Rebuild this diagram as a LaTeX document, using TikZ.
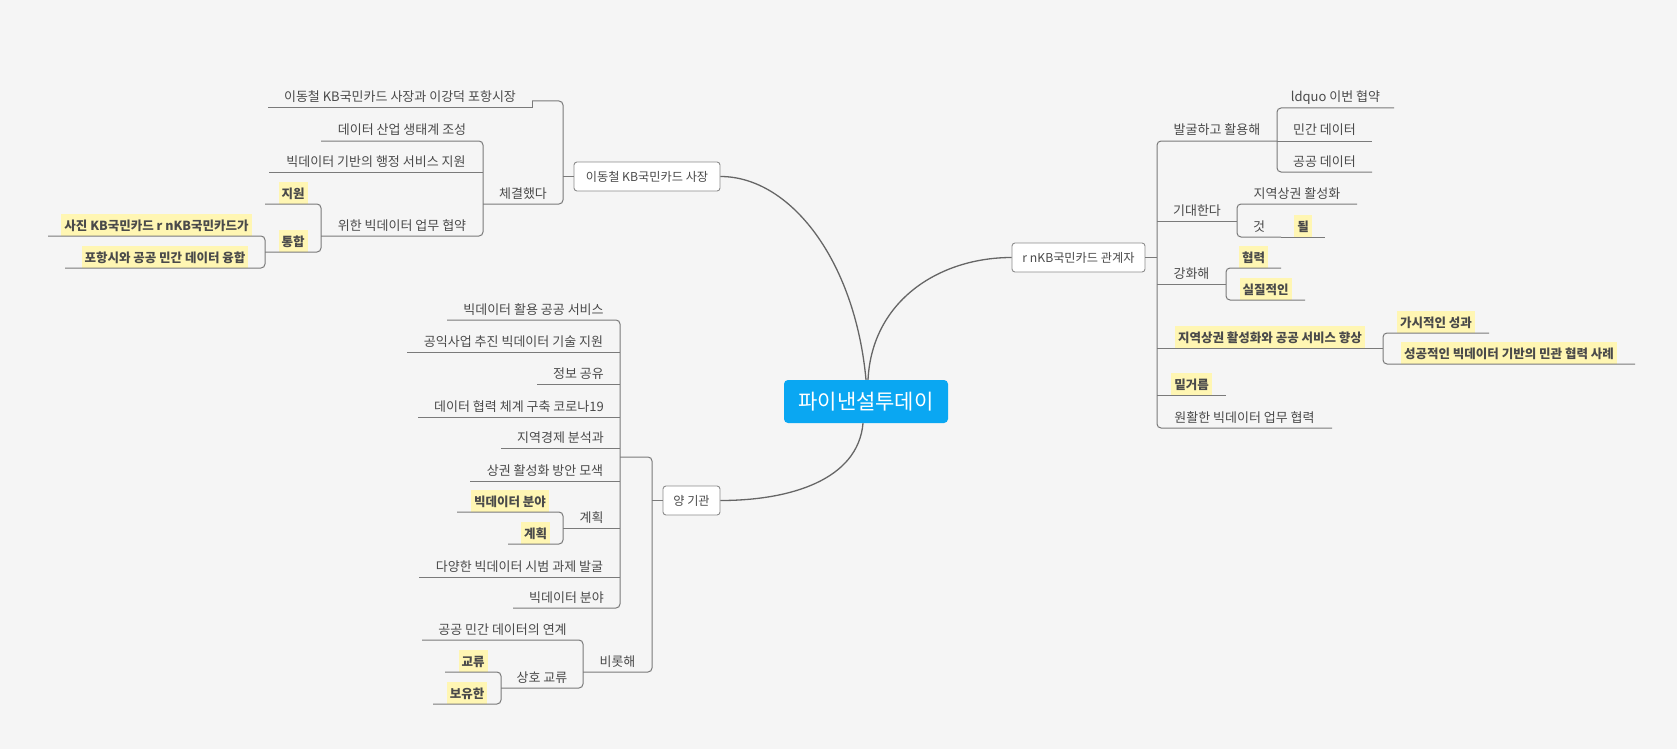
\documentclass[tikz,border=0pt]{standalone}
\usepackage{fontspec}
\setmainfont{Noto Sans CJK KR}
\usetikzlibrary{calc}
\definecolor{bg}{HTML}{F5F5F5}
\definecolor{ln}{HTML}{7A7A7A}
\definecolor{cv}{HTML}{666666}
\definecolor{tx}{HTML}{4A4A4A}
\definecolor{hl}{HTML}{FFF6B3}
\definecolor{cen}{HTML}{0AA7F2}
\definecolor{bd}{HTML}{8C8C8C}
\newcommand\plainlbl[1]{\rule[-6pt]{0pt}{22pt}#1}
\newcommand\hllbl[1]{{\setlength\fboxsep{3pt}\colorbox{hl}{\rule[-3pt]{0pt}{16pt}\fontsize{12.5}{14}\selectfont\bfseries #1}}}
\tikzset{
  topic/.style={inner sep=0pt, outer sep=0pt, text=tx, font=\fontsize{13}{15}\selectfont, minimum height=22pt},
  topl/.style={topic, anchor=south east},
  topr/.style={topic, anchor=south west},
  ul/.style={draw=ln, line width=1pt},
  brk/.style={draw=ln, line width=1pt, rounded corners=4pt},
  mainbox/.style={draw=bd, fill=white, rounded corners=3pt, text=tx, font=\fontsize{12.2}{14}\selectfont, inner sep=0pt, line width=0.9pt},
  centre/.style={fill=cen, rounded corners=4pt, text=white, font=\fontsize{21}{24}\selectfont, inner sep=0pt},
  curve/.style={draw=cv, line width=1.3pt}
}
\begin{document}
\begin{tikzpicture}[x=1pt, y=-1pt]
\fill[bg] (0,0) rectangle (1677,749);
\useasboundingbox (0,0) rectangle (1677,749);

% main nodes
\node[centre, minimum width=164pt, minimum height=43pt] (M) at (866,401.5) {파이낸설투데이};
\node[mainbox, minimum width=146pt, minimum height=29pt] (A) at (647,176.5) {이동철 KB국민카드 사장};
\node[mainbox, minimum width=133pt, minimum height=29pt] (B) at (1078.5,257.5) {r nKB국민카드 관계자};
\node[mainbox, minimum width=57pt, minimum height=29pt] (C) at (691.5,500.5) {양 기관};

\draw[curve] (M.north) .. controls (855,260) and (790,176.5) .. (A.east);
\draw[curve] ([xshift=2pt]M.north) .. controls (872,300) and (940,257.5) .. (B.west);
\draw[curve] ([xshift=-3pt]M.south) .. controls (858,480) and (790,500.5) .. (C.east);

% ---- branch A ----
\coordinate (ka) at (563,101);
\node[topl, minimum width=264pt] (a1) at (532,108) {\plainlbl{이동철 KB국민카드 사장과 이강덕 포항시장}};
\node[topl, minimum width=80pt] (a2) at (563,204) {\plainlbl{체결했다}};
\node[topl, minimum width=162pt] (a21) at (483,141) {\plainlbl{데이터 산업 생태계 조성}};
\node[topl, minimum width=214pt] (a22) at (483,172) {\plainlbl{빅데이터 기반의 행정 서비스 지원}};
\node[topl, minimum width=162pt] (a23) at (483,236) {\plainlbl{위한 빅데이터 업무 협약}};
\node[topl, minimum width=56pt] (a231) at (321,204) {\hllbl{지원}};
\node[topl, minimum width=56pt] (a232) at (321,252) {\hllbl{통합}};
\node[topl, minimum width=217pt] (a2321) at (265,236) {\hllbl{사진 KB국민카드 r nKB국민카드가}};
\node[topl, minimum width=200pt] (a2322) at (265,268) {\hllbl{포항시와 공공 민간 데이터 융합}};

\draw[ul] (A.west) -- (A.west -| a2.south east);
\draw[ul] (a1.south west) -- (a1.south east) -- (a1.south east |- ka);
\draw[brk] (a1.south east |- ka) -- (ka) -- (a2.south east) -- (a2.south west);
\draw[brk] (a21.south west) -- (a21.south east) -- (a23.south east) -- (a23.south west);
\draw[ul] (a22.south west) -- (a22.south east);
\draw[brk] (a231.south west) -- (a231.south east) -- (a232.south east) -- (a232.south west);
\draw[brk] (a2321.south west) -- (a2321.south east) -- (a2322.south east) -- (a2322.south west);

% ---- branch B ----
\node[topr, minimum width=120pt] (b1) at (1157,141) {\plainlbl{발굴하고 활용해}};
\node[topr, minimum width=117pt] (b11) at (1277,108) {\plainlbl{ldquo 이번 협약}};
\node[topr, minimum width=95pt] (b12) at (1277,141) {\plainlbl{민간 데이터}};
\node[topr, minimum width=95pt] (b13) at (1277,172) {\plainlbl{공공 데이터}};
\node[topr, minimum width=80pt] (b2) at (1157,221) {\plainlbl{기대한다}};
\node[topr, minimum width=120pt] (b21) at (1237,204) {\plainlbl{지역상권 활성화}};
\node[topr, minimum width=44pt] (b22) at (1237,237) {\plainlbl{것}};
\node[topr, minimum width=44pt] (b221) at (1281,237) {\hllbl{될}};
\node[topr, minimum width=69pt] (b3) at (1157,284) {\plainlbl{강화해}};
\node[topr, minimum width=55pt] (b31) at (1226,268) {\hllbl{협력}};
\node[topr, minimum width=79pt] (b32) at (1226,300) {\hllbl{실질적인}};
\node[topr, minimum width=226pt] (b4) at (1157,348) {\hllbl{지역상권 활성화와 공공 서비스 향상}};
\node[topr, minimum width=106pt] (b41) at (1383,333) {\hllbl{가시적인 성과}};
\node[topr, minimum width=252pt] (b42) at (1383,364) {\hllbl{성공적인 빅데이터 기반의 민관 협력 사례}};
\node[topr, minimum width=69pt] (b5) at (1157,395) {\hllbl{밑거름}};
\node[topr, minimum width=175pt] (b6) at (1157,428) {\plainlbl{원활한 빅데이터 업무 협력}};

\draw[ul] (B.east) -- (B.east -| b1.south west);
\draw[brk] (b1.south east) -- (b1.south west) -- (b6.south west) -- (b6.south east);
\foreach \n in {b2,b3,b4,b5,b12,b221} \draw[ul] (\n.south west) -- (\n.south east);
\draw[brk] (b11.south east) -- (b11.south west) -- (b13.south west) -- (b13.south east);
\draw[brk] (b21.south east) -- (b21.south west) -- (b22.south west) -- (b22.south east);
\draw[brk] (b31.south east) -- (b31.south west) -- (b32.south west) -- (b32.south east);
\draw[brk] (b41.south east) -- (b41.south west) -- (b42.south west) -- (b42.south east);

% ---- branch C ----
\node[topl, minimum width=32pt] (c1) at (652,457) {\plainlbl{}};
\node[topl, minimum width=173pt] (c11) at (620,320) {\plainlbl{빅데이터 활용 공공 서비스}};
\node[topl, minimum width=213pt] (c12) at (620,352) {\plainlbl{공익사업 추진 빅데이터 기술 지원}};
\node[topl, minimum width=83pt] (c13) at (620,384) {\plainlbl{정보 공유}};
\node[topl, minimum width=202pt] (c14) at (620,417) {\plainlbl{데이터 협력 체계 구축 코로나19}};
\node[topl, minimum width=119pt] (c15) at (620,448) {\plainlbl{지역경제 분석과}};
\node[topl, minimum width=150pt] (c16) at (620,481) {\plainlbl{상권 활성화 방안 모색}};
\node[topl, minimum width=57pt] (c17) at (620,528) {\plainlbl{계획}};
\node[topl, minimum width=106pt] (c171) at (563,512) {\hllbl{빅데이터 분야}};
\node[topl, minimum width=55pt] (c172) at (563,544) {\hllbl{계획}};
\node[topl, minimum width=201pt] (c18) at (620,577) {\plainlbl{다양한 빅데이터 시범 과제 발굴}};
\node[topl, minimum width=107pt] (c19) at (620,608) {\plainlbl{빅데이터 분야}};
\node[topl, minimum width=69pt] (c2) at (652,672) {\plainlbl{비롯해}};
\node[topl, minimum width=161pt] (c21) at (583,640) {\plainlbl{공공 민간 데이터의 연계}};
\node[topl, minimum width=82pt] (c22) at (583,688) {\plainlbl{상호 교류}};
\node[topl, minimum width=56pt] (c221) at (501,672) {\hllbl{교류}};
\node[topl, minimum width=68pt] (c222) at (501,704) {\hllbl{보유한}};

\draw[ul] (C.west) -- (C.west -| c1.south east);
\draw[brk] (c1.south west) -- (c1.south east) -- (c2.south east) -- (c2.south west);
\draw[brk] (c11.south west) -- (c11.south east) -- (c19.south east) -- (c19.south west);
\foreach \n in {c12,c13,c14,c15,c16,c17,c18} \draw[ul] (\n.south west) -- (\n.south east);
\draw[brk] (c171.south west) -- (c171.south east) -- (c172.south east) -- (c172.south west);
\draw[brk] (c21.south west) -- (c21.south east) -- (c22.south east) -- (c22.south west);
\draw[brk] (c221.south west) -- (c221.south east) -- (c222.south east) -- (c222.south west);
\end{tikzpicture}
\end{document}
